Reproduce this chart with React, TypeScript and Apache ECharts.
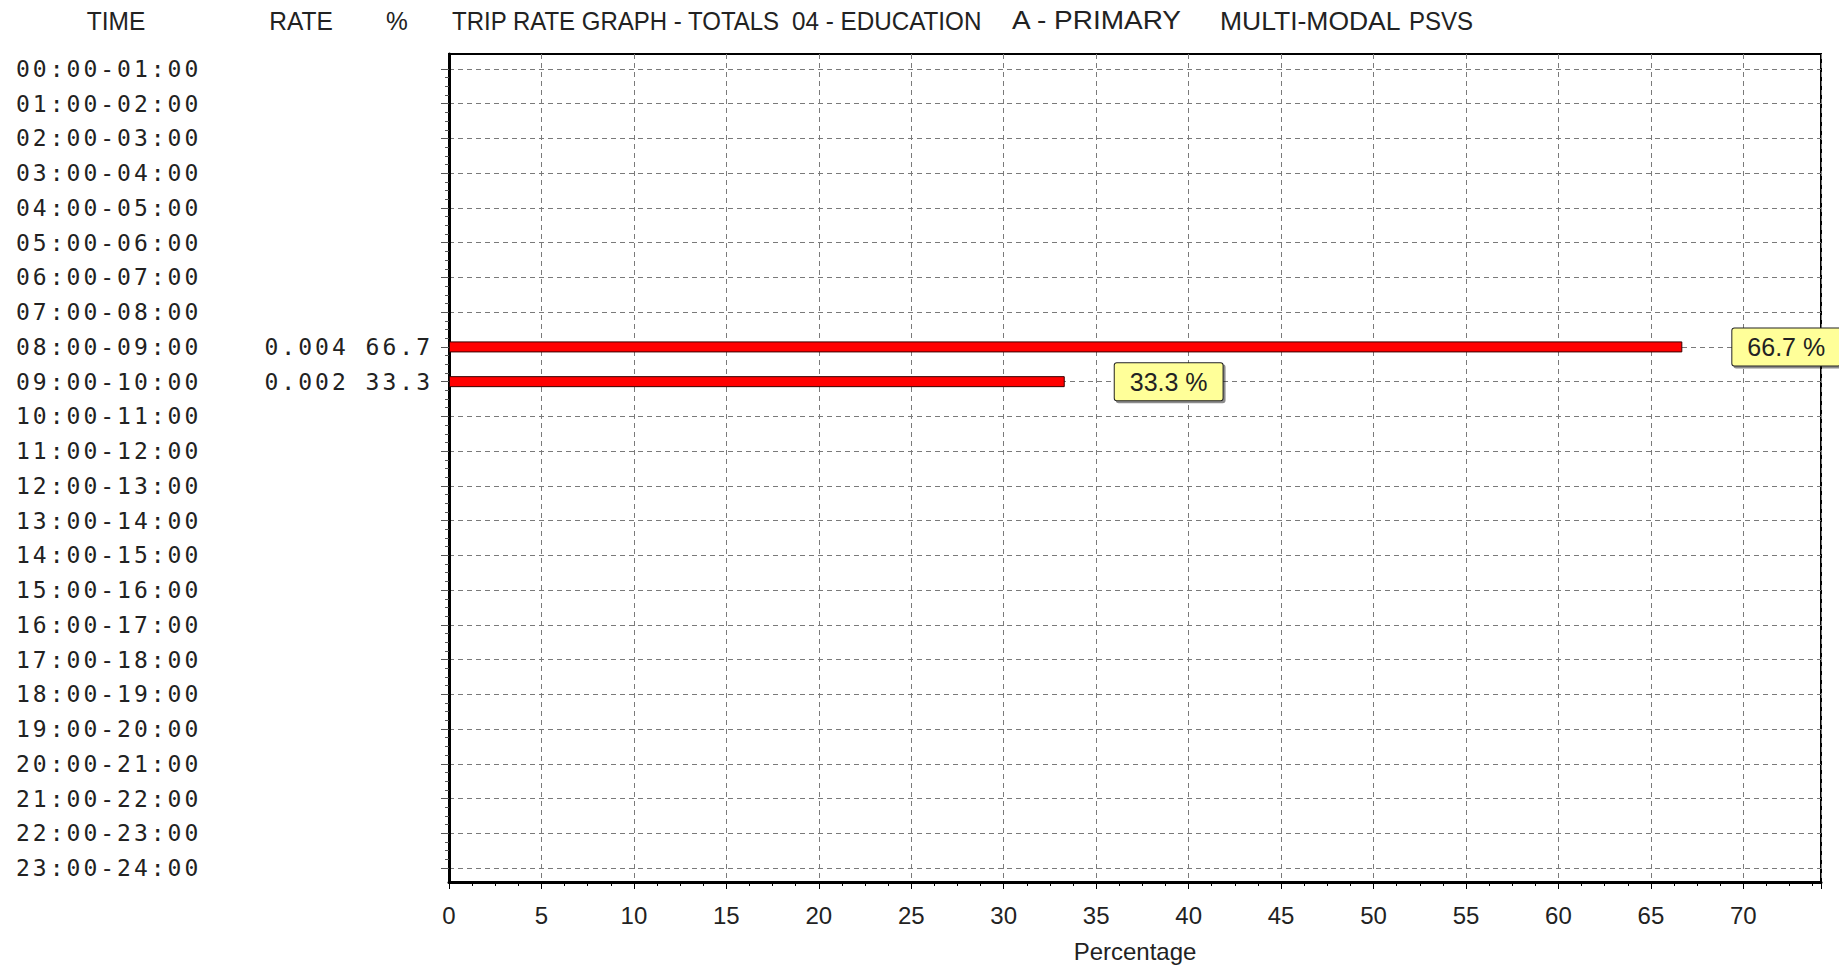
import React, { useEffect, useRef } from "react";
import * as echarts from "echarts";

const timeSlots = [
  "00:00-01:00", "01:00-02:00", "02:00-03:00", "03:00-04:00",
  "04:00-05:00", "05:00-06:00", "06:00-07:00", "07:00-08:00",
  "08:00-09:00", "09:00-10:00", "10:00-11:00", "11:00-12:00",
  "12:00-13:00", "13:00-14:00", "14:00-15:00", "15:00-16:00",
  "16:00-17:00", "17:00-18:00", "18:00-19:00", "19:00-20:00",
  "20:00-21:00", "21:00-22:00", "22:00-23:00", "23:00-24:00",
];

const rateValues: (number | null)[] = [
  null, null, null, null, null, null, null, null,
  0.004, 0.002,
  null, null, null, null, null, null, null, null, null, null, null, null, null, null,
];

const percentValues: (number | null)[] = [
  null, null, null, null, null, null, null, null,
  66.7, 33.3,
  null, null, null, null, null, null, null, null, null, null, null, null, null, null,
];

const headerTime = "TIME";
const headerRate = "RATE";
const headerPct = "%";
const titleParts = ["TRIP RATE GRAPH - TOTALS", "04 - EDUCATION", "A - PRIMARY", "MULTI-MODAL", "PSVS"];
const titleX = [452, 792, 1012, 1220, 1409];
const titleScale = [0.96, 0.97, 1.12, 1.06, 0.96];
const xAxisName = "Percentage";

const SANS = "'Liberation Sans', Arial, sans-serif";
const MONO = "'DejaVu Sans Mono', monospace";
const TXT = "#222";

export default function App() {
  const ref = useRef<HTMLDivElement>(null);

  useEffect(() => {
    if (!ref.current) return;
    const chart = echarts.init(ref.current, undefined, { renderer: "svg" });

    const headerStyle = (text: string, align: string) => ({
      text,
      fontFamily: SANS,
      fontSize: 25,
      fill: TXT,
      align,
      verticalAlign: "middle",
    });

    const graphic: any[] = [
      { type: "text", x: 116, y: 21, scaleX: 0.98, style: headerStyle(headerTime, "center") },
      { type: "text", x: 301, y: 21, scaleX: 0.98, style: headerStyle(headerRate, "center") },
      { type: "text", x: 397, y: 21, scaleX: 0.98, style: headerStyle(headerPct, "center") },
      ...titleParts.map((t, i) => ({
        type: "text",
        x: titleX[i],
        y: 21,
        scaleX: titleScale[i],
        style: headerStyle(t, "left"),
      })),
    ];

    const dashed = { show: true, lineStyle: { color: "#7a7a7a", width: 1, type: [5, 4] } };

    const option: any = {
      animation: false,
      backgroundColor: "#ffffff",
      grid: [
        { left: 449, right: 18, top: 54, bottom: 87, show: true, borderColor: "#000", borderWidth: 2, backgroundColor: "transparent" },
        { left: 449, right: 18, top: 69, bottom: 101 },
      ],
      xAxis: [
        {
          gridIndex: 0,
          type: "value",
          min: 0,
          max: 74.2,
          interval: 5,
          name: xAxisName,
          nameLocation: "middle",
          nameGap: 57,
          nameTextStyle: { fontFamily: SANS, fontSize: 24, color: TXT },
          axisLine: { show: true, lineStyle: { color: "#000", width: 3 } },
          axisTick: { show: true, length: 7, lineStyle: { color: "#000", width: 1 } },
          minorTick: { show: true, splitNumber: 4, length: 4, lineStyle: { color: "#000", width: 1 } },
          splitLine: dashed,
          axisLabel: { margin: 21, fontFamily: SANS, fontSize: 24, color: TXT, showMaxLabel: false },
        },
        { gridIndex: 1, type: "value", min: 0, max: 74.2, show: false },
      ],
      yAxis: [
        {
          gridIndex: 0,
          type: "value",
          min: 0,
          max: 1,
          axisLine: { show: true, lineStyle: { color: "#000", width: 3 } },
          axisTick: { show: false },
          axisLabel: { show: false },
          splitLine: { show: false },
        },
        {
          gridIndex: 1,
          type: "category",
          data: timeSlots,
          inverse: true,
          boundaryGap: false,
          position: "left",
          axisLine: { show: false },
          axisTick: { show: false },
          splitLine: { show: false },
          axisLabel: { interval: 0, align: "left", margin: 433, fontFamily: MONO, fontSize: 23, color: TXT },
        },
        {
          gridIndex: 1,
          type: "category",
          data: timeSlots,
          inverse: true,
          boundaryGap: false,
          position: "left",
          axisLine: { show: false },
          axisTick: { show: false },
          splitLine: { show: false },
          axisLabel: {
            interval: 0,
            align: "right",
            margin: 16,
            fontFamily: MONO,
            fontSize: 23,
            color: TXT,
            formatter: (_v: string, i: number) => {
              const r = rateValues[i];
              const p = percentValues[i];
              return r != null && p != null ? `${r.toFixed(3)} ${p.toFixed(1)}` : "";
            },
          },
        },
        {
          gridIndex: 1,
          type: "value",
          min: 0,
          max: timeSlots.length - 1,
          interval: 1,
          inverse: true,
          position: "left",
          axisLine: { show: false },
          axisTick: { show: true, length: 8, lineStyle: { color: "#555", width: 1 } },
          minorTick: { show: true, splitNumber: 4, length: 4, lineStyle: { color: "#555", width: 1 } },
          axisLabel: { show: false },
          splitLine: dashed,
        },
      ],
      series: [
        {
          type: "bar",
          xAxisIndex: 1,
          yAxisIndex: 1,
          data: percentValues,
          barWidth: 11,
          itemStyle: { color: "#ff0000", borderColor: "#3a0000", borderWidth: 1 },
          label: {
            show: true,
            position: "right",
            distance: 50,
            formatter: (p: any) => `${p.value} %`,
            fontFamily: SANS,
            fontSize: 25,
            color: TXT,
            backgroundColor: "#ffff99",
            borderColor: "#222",
            borderWidth: 1,
            borderRadius: 2,
            padding: [6, 15, 6, 15],
            shadowColor: "rgba(0,0,0,0.45)",
            shadowOffsetX: 2,
            shadowOffsetY: 2,
            shadowBlur: 0,
          },
        },
      ],
      graphic,
    };

    chart.setOption(option);
    return () => chart.dispose();
  }, []);

  return (
    <>
      <style>{`#chart-host svg text[style*="DejaVu Sans Mono"] { letter-spacing: 3px; }`}</style>
      <div
        id="chart-host"
        ref={ref}
        style={{ position: "fixed", left: 0, top: 0, width: 1839, height: 969, background: "#fff" }}
      />
    </>
  );
}
